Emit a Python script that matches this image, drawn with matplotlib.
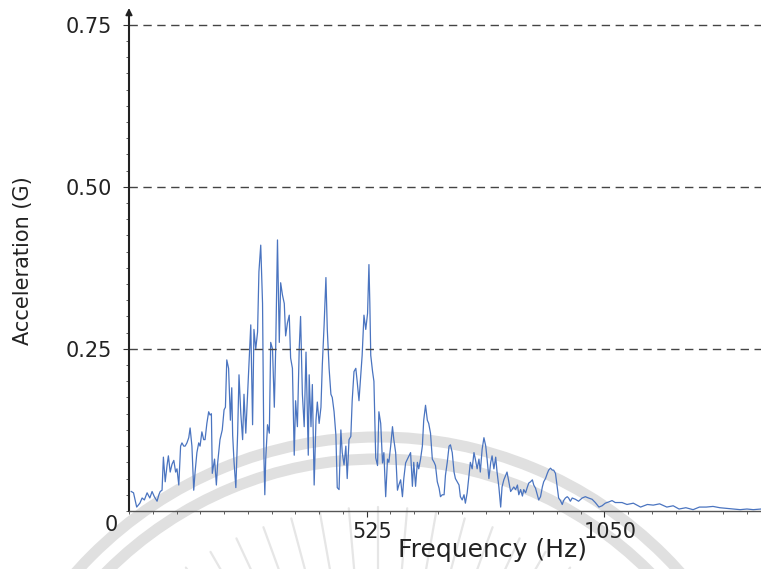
"""
Vibration spectrum: acceleration amplitude against frequency
"""

import matplotlib

matplotlib.use("Agg")

import matplotlib.pyplot as plt
import matplotlib.transforms as mtransforms
import numpy as np
from matplotlib.patches import Arc
from matplotlib.ticker import FixedLocator, MultipleLocator

# Spectrum samples (Hz, G)
freq_hz = [
    5, 10, 17, 24, 29, 34, 40, 46, 51, 56, 62, 66, 69, 73, 76, 80, 84, 87, 91, 95,
    99, 103, 106, 110, 114, 117, 121, 124, 128, 132, 135, 139, 143, 146, 150, 154,
    157, 161, 165, 168, 172, 176, 179, 182, 184, 189, 193, 196, 201, 206, 210, 213,
    216, 220, 224, 227, 229, 232, 236, 240, 243, 247, 251, 254, 258, 262, 265, 269,
    273, 276, 280, 284, 287, 291, 295, 298, 300, 302, 306, 310, 313, 317, 321, 324,
    328, 332, 335, 339, 343, 346, 350, 354, 357, 361, 365, 368, 372, 376, 379, 383,
    387, 391, 394, 396, 398, 402, 405, 409, 413, 416, 420, 424, 427, 431, 435, 438,
    442, 446, 449, 453, 457, 460, 464, 468, 471, 475, 479, 482, 486, 490, 493, 497,
    501, 504, 508, 512, 515, 519, 523, 527, 530, 532, 534, 538, 541, 545, 549, 552,
    556, 560, 563, 567, 571, 574, 578, 582, 585, 589, 593, 596, 600, 604, 607, 611,
    615, 622, 626, 629, 633, 637, 640, 644, 648, 651, 655, 659, 662, 666, 670, 674,
    677, 681, 685, 688, 692, 696, 699, 703, 707, 710, 714, 718, 721, 725, 729, 732,
    736, 740, 743, 747, 751, 754, 758, 762, 765, 769, 773, 776, 780, 784, 788, 791,
    795, 799, 802, 806, 810, 813, 817, 821, 824, 828, 832, 835, 839, 843, 846, 850,
    854, 858, 861, 865, 869, 872, 876, 880, 883, 887, 891, 894, 898, 902, 905, 909,
    913, 916, 920, 924, 927, 931, 935, 938, 942, 946, 949, 953, 957, 960, 964, 968,
    971, 975, 979, 986, 993, 1001, 1008, 1015, 1023, 1030, 1038, 1045, 1052, 1060,
    1067, 1074, 1082, 1089, 1100, 1114, 1130, 1145, 1158, 1172, 1188, 1202, 1215,
    1230, 1246, 1260, 1275, 1290, 1305, 1320, 1334, 1350, 1365, 1379, 1396,
]
accel_g = [
    0.030, 0.028, 0.006, 0.012, 0.020, 0.017, 0.028, 0.020, 0.030, 0.022, 0.015, 0.025,
    0.030, 0.032, 0.083, 0.045, 0.070, 0.085, 0.060, 0.072, 0.078, 0.060, 0.065, 0.040,
    0.100, 0.105, 0.100, 0.100, 0.105, 0.113, 0.128, 0.100, 0.032, 0.060, 0.090, 0.105,
    0.100, 0.122, 0.110, 0.110, 0.135, 0.153, 0.148, 0.150, 0.058, 0.080, 0.040, 0.075,
    0.110, 0.125, 0.156, 0.160, 0.233, 0.220, 0.140, 0.190, 0.117, 0.076, 0.036, 0.120,
    0.210, 0.150, 0.110, 0.180, 0.120, 0.180, 0.225, 0.287, 0.133, 0.280, 0.250, 0.276,
    0.369, 0.410, 0.320, 0.086, 0.025, 0.080, 0.133, 0.120, 0.260, 0.250, 0.160, 0.250,
    0.418, 0.260, 0.352, 0.333, 0.320, 0.270, 0.290, 0.302, 0.236, 0.220, 0.086, 0.170,
    0.130, 0.250, 0.300, 0.180, 0.130, 0.245, 0.153, 0.086, 0.210, 0.130, 0.195, 0.040,
    0.140, 0.168, 0.135, 0.160, 0.225, 0.287, 0.360, 0.280, 0.220, 0.180, 0.175, 0.153,
    0.117, 0.036, 0.033, 0.125, 0.090, 0.071, 0.100, 0.050, 0.110, 0.115, 0.170, 0.215,
    0.220, 0.200, 0.170, 0.210, 0.240, 0.302, 0.280, 0.305, 0.380, 0.320, 0.240, 0.215,
    0.200, 0.082, 0.070, 0.153, 0.135, 0.074, 0.090, 0.022, 0.080, 0.075, 0.100, 0.130,
    0.110, 0.090, 0.032, 0.040, 0.048, 0.022, 0.050, 0.074, 0.080, 0.090, 0.038, 0.075,
    0.038, 0.075, 0.065, 0.080, 0.100, 0.140, 0.163, 0.140, 0.135, 0.120, 0.080, 0.075,
    0.070, 0.045, 0.035, 0.022, 0.025, 0.025, 0.055, 0.075, 0.100, 0.102, 0.090, 0.060,
    0.050, 0.045, 0.040, 0.022, 0.017, 0.025, 0.012, 0.028, 0.055, 0.075, 0.065, 0.090,
    0.080, 0.065, 0.080, 0.060, 0.095, 0.113, 0.100, 0.080, 0.050, 0.075, 0.085, 0.065,
    0.083, 0.060, 0.037, 0.006, 0.037, 0.048, 0.055, 0.060, 0.045, 0.030, 0.033, 0.037,
    0.033, 0.040, 0.025, 0.033, 0.023, 0.033, 0.028, 0.037, 0.043, 0.045, 0.048, 0.040,
    0.035, 0.025, 0.017, 0.022, 0.037, 0.045, 0.050, 0.058, 0.063, 0.066, 0.063, 0.063,
    0.058, 0.036, 0.020, 0.016, 0.010, 0.016, 0.020, 0.022, 0.020, 0.015, 0.020, 0.018,
    0.015, 0.020, 0.022, 0.020, 0.018, 0.013, 0.006, 0.008, 0.012, 0.014, 0.016, 0.013,
    0.013, 0.013, 0.010, 0.012, 0.006, 0.010, 0.009, 0.011, 0.006, 0.008, 0.003, 0.005,
    0.002, 0.006, 0.006, 0.007, 0.005, 0.004, 0.003, 0.002, 0.003, 0.002, 0.003,
]

x_ticks = [525, 1050]
x_labels = ["525", "1050"]
y_ticks = [0.25, 0.50, 0.75]
y_labels = ["0.25", "0.50", "0.75"]

fig = plt.figure(figsize=(7.61, 5.69), dpi=100)
ax = fig.add_axes([0.1695, 0.102, 0.8305, 0.8717])

# faint circular seal behind the plot (pixel coordinates of the canvas)
seal = fig.add_axes([0, 0, 1, 1], zorder=-1)
seal.set_xlim(0, 761)
seal.set_ylim(569, 0)
seal.axis("off")
cx, cy = 378, 842
for r in (405, 383):
    seal.add_patch(Arc((cx, cy), 2 * r, 2 * r, theta1=0, theta2=360,
                       color="#e0e0e0", linewidth=8))
for ang in np.arange(-40, 41, 5):
    a = np.deg2rad(ang)
    seal.plot([cx + 272 * np.sin(a), cx + 335 * np.sin(a)],
              [cy - 272 * np.cos(a), cy - 335 * np.cos(a)],
              color="#e6e6e6", linewidth=1.6, solid_capstyle="round")
ax.patch.set_alpha(0)

ax.plot(freq_hz, accel_g, color="#4a74c0", linewidth=0.9)

ax.set_xlim(0, 1396)
ax.set_ylim(0, 0.765)

ax.xaxis.set_major_locator(FixedLocator(x_ticks))
ax.set_xticklabels(x_labels)
ax.xaxis.set_minor_locator(MultipleLocator(52.5))
ax.yaxis.set_major_locator(FixedLocator(y_ticks))
ax.set_yticklabels(y_labels)
ax.yaxis.set_minor_locator(MultipleLocator(0.025))

ax.tick_params(axis="both", which="major", labelsize=15, length=4, width=0.8,
               colors="#333333", labelcolor="#222222")
ax.tick_params(axis="y", which="major", pad=8)
ax.tick_params(axis="x", which="major", pad=4)
ax.tick_params(axis="both", which="minor", length=2.5, width=0.6, colors="#444444")

# frequency labels sit a touch right of their ticks
nudge = mtransforms.ScaledTranslation(6 / 100, 0, fig.dpi_scale_trans)
for lbl in ax.get_xticklabels():
    lbl.set_transform(lbl.get_transform() + nudge)

for y in y_ticks:
    ax.axhline(y, color="#444444", linestyle=(0, (6, 4)), linewidth=1.0)

for side in ("top", "right"):
    ax.spines[side].set_visible(False)
ax.spines["left"].set_linewidth(1.5)
ax.spines["left"].set_color("#222222")
ax.spines["bottom"].set_linewidth(1.0)
ax.spines["bottom"].set_color("#555555")

# arrow head on the vertical axis
ax.annotate("", xy=(0, 0.78), xytext=(0, 0.74), xycoords="data",
            arrowprops=dict(arrowstyle="-|>", color="#222222", lw=1.2,
                            mutation_scale=10), annotation_clip=False)

ax.text(-0.028, -0.008, "0", transform=ax.transAxes, fontsize=15,
        ha="center", va="top", color="#222222")

ax.set_xlabel("Frequency (Hz)", fontsize=18, color="#222222")
ax.xaxis.set_label_coords(0.575, -0.055)
ax.xaxis.label.set_va("top")
ax.set_ylabel("Acceleration (G)", fontsize=15, color="#222222",
              family=["Liberation Sans Narrow", "DejaVu Sans"])
ax.yaxis.set_label_coords(-0.152, 0.505)

fig.savefig("out.png", dpi=100, facecolor="white")
